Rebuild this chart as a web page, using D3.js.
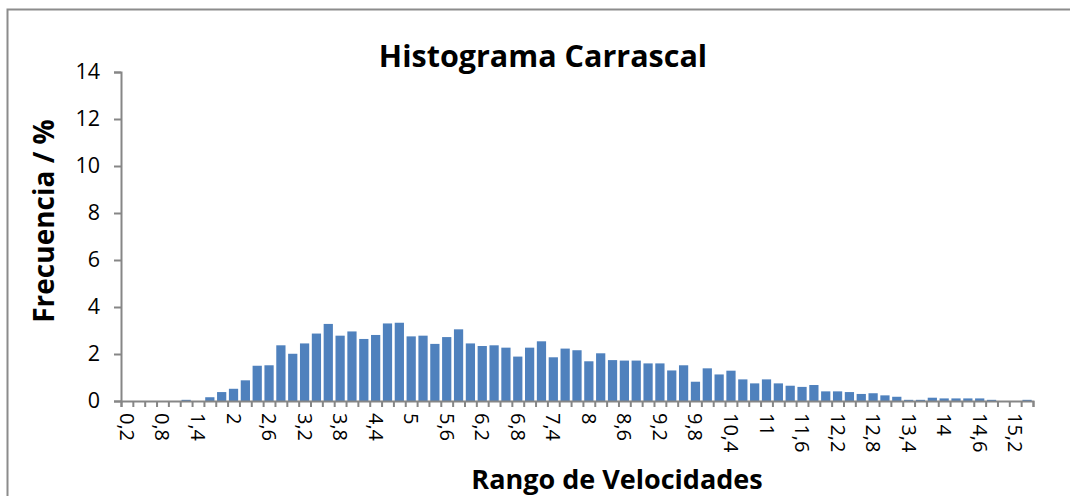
<!DOCTYPE html>
<html>
<head>
<meta charset="utf-8">
<script src="https://cdn.jsdelivr.net/npm/d3@7"></script>
<style>
body { margin: 0; background: #fff; }
text { font-family: "Open Sans", Lato, sans-serif; fill: #000; }
</style>
</head>
<body>
<svg id="chart" width="1070" height="496"></svg>
<script>
// rango de velocidades (clases de 0,2)
var categories = ["0,2","0,4","0,6","0,8","1","1,2","1,4","1,6","1,8","2",
  "2,2","2,4","2,6","2,8","3","3,2","3,4","3,6","3,8","4",
  "4,2","4,4","4,6","4,8","5","5,2","5,4","5,6","5,8","6",
  "6,2","6,4","6,6","6,8","7","7,2","7,4","7,6","7,8","8",
  "8,2","8,4","8,6","8,8","9","9,2","9,4","9,6","9,8","10",
  "10,2","10,4","10,6","10,8","11","11,2","11,4","11,6","11,8","12",
  "12,2","12,4","12,6","12,8","13","13,2","13,4","13,6","13,8","14",
  "14,2","14,4","14,6","14,8","15","15,2","15,4"];

// frecuencia en %
var frecuencia = [0,0,0,0,0,0.05,0,0.16,0.38,0.52,
  0.88,1.50,1.52,2.37,2.01,2.45,2.87,3.28,2.78,2.96,
  2.64,2.81,3.30,3.33,2.75,2.78,2.43,2.72,3.05,2.45,
  2.34,2.37,2.27,1.89,2.27,2.54,1.86,2.23,2.16,1.69,
  2.03,1.74,1.72,1.72,1.60,1.60,1.30,1.52,0.82,1.39,
  1.13,1.29,0.92,0.75,0.92,0.75,0.65,0.60,0.68,0.41,
  0.41,0.38,0.30,0.33,0.24,0.18,0.05,0.05,0.14,0.11,
  0.11,0.11,0.11,0.05,0,0,0.05];

var yTicks = [0, 2, 4, 6, 8, 10, 12, 14];

var svg = d3.select("#chart");
var plotLeft = 121, plotRight = 1033, plotTop = 72, plotBottom = 401;

// marco del grafico
svg.append("rect")
  .attr("x", 7.5).attr("y", 9.5)
  .attr("width", 1100).attr("height", 600)
  .attr("fill", "none")
  .attr("stroke", "#8c8c8c")
  .attr("stroke-width", 2);

var x = d3.scaleBand()
  .domain(categories)
  .range([plotLeft, plotRight])
  .paddingInner(0.22)
  .paddingOuter(0.11);

var xEdges = d3.scaleLinear()
  .domain([0, categories.length])
  .range([plotLeft, plotRight]);

var y = d3.scaleLinear()
  .domain([0, 14])
  .range([plotBottom, plotTop]);

// barras
svg.append("g")
  .selectAll("rect")
  .data(frecuencia)
  .enter()
  .append("rect")
  .attr("x", function(d, i) { return x(categories[i]); })
  .attr("width", x.bandwidth())
  .attr("y", function(d) { return y(d); })
  .attr("height", function(d) { return y(0) - y(d); })
  .attr("fill", "#4f81bd");

// eje y
var yAxis = svg.append("g")
  .attr("transform", "translate(" + plotLeft + ",0)")
  .call(d3.axisLeft(y).tickValues(yTicks).tickSize(7).tickPadding(14));
yAxis.selectAll("text").style("font-size", "21.5px");

// eje x: marcas entre clases
var xTicks = svg.append("g")
  .attr("transform", "translate(0," + plotBottom + ")")
  .call(d3.axisBottom(xEdges).tickValues(d3.range(categories.length + 1)).tickSize(6).tickFormat(""));

// etiquetas cada 3 clases
var xLabels = svg.append("g")
  .attr("transform", "translate(0," + plotBottom + ")")
  .call(d3.axisBottom(x)
    .tickValues(categories.filter(function(c, i) { return i % 3 == 0; }))
    .tickSize(0));
xLabels.select(".domain").remove();
xLabels.selectAll("text")
  .style("font-size", "20px")
  .attr("transform", "rotate(90)")
  .attr("x", 12)
  .attr("y", 0)
  .attr("dy", "0.35em")
  .style("text-anchor", "start");

svg.selectAll(".domain, .tick line").attr("stroke", "#868686").attr("stroke-width", 2);

// titulos
svg.append("text")
  .attr("x", 543).attr("y", 67)
  .attr("text-anchor", "middle")
  .style("font-size", "30.5px").style("font-weight", "bold")
  .text("Histograma Carrascal");

svg.append("text")
  .attr("transform", "translate(54,221) rotate(-90)")
  .attr("text-anchor", "middle")
  .style("font-size", "28px").style("font-weight", "bold")
  .text("Frecuencia / %");

svg.append("text")
  .attr("x", 617).attr("y", 489)
  .attr("text-anchor", "middle")
  .style("font-size", "27px").style("font-weight", "bold")
  .text("Rango de Velocidades");
</script>
</body>
</html>
